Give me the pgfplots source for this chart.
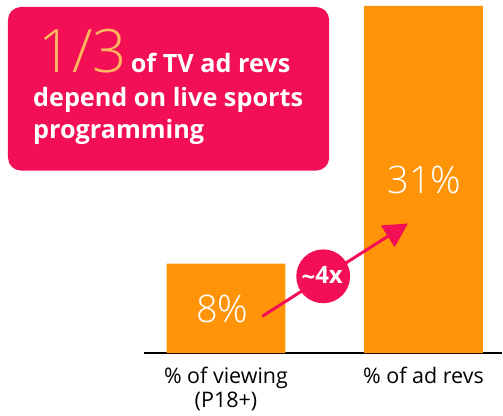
\documentclass[border=0pt]{standalone}
\usepackage{pgfplots}
\pgfplotsset{compat=1.18}
\usepackage{fontspec}
\setmainfont{Open Sans}
\newfontfamily\lightfont{Open Sans Light}
\usetikzlibrary{arrows.meta}
\definecolor{barorange}{HTML}{FF9408}
\definecolor{hotpink}{HTML}{F20F55}
\definecolor{peach}{HTML}{FFB860}
\begin{document}
\begin{tikzpicture}
\begin{scope}[x=1bp,y=-1bp]
\path[use as bounding box] (0,0) rectangle (503,417);
\end{scope}
\begin{axis}[
  at={(144bp,-354bp)}, anchor=south west,
  scale only axis, width=359bp, height=348bp,
  ybar, bar width=0.601, bar shift=0pt,
  xmin=-0.4167, xmax=1.3965, ymin=0, ymax=31,
  axis x line=bottom, axis y line=none,
  axis line style={line width=2.5bp, -},
  xtick=data, xticklabels={{\% of viewing\\(P18+)},{\% of ad revs}},
  xticklabel style={align=center, font=\fontsize{21.5bp}{25bp}\selectfont, text=black, yshift=-10bp},
  major tick length=0pt,
  clip=false,
]
\addplot[fill=barorange, draw=none] coordinates {(0,8) (1,31)};
\end{axis}
\begin{scope}[x=1bp,y=-1bp]
\fill[hotpink, rounded corners=13bp] (8,7) rectangle (330,171);
\node[anchor=base west, inner sep=0, text=peach, font=\lightfont\fontsize{60bp}{60bp}\selectfont] at (38,73) {1/3};
\node[anchor=base west, inner sep=0, text=white, font=\bfseries\fontsize{25.3bp}{28bp}\selectfont] at (131,73) {of TV ad revs};
\node[anchor=base west, inner sep=0, text=white, font=\bfseries\fontsize{25.3bp}{28bp}\selectfont] at (33,107) {depend on live sports};
\node[anchor=base west, inner sep=0, text=white, font=\bfseries\fontsize{25.3bp}{28bp}\selectfont] at (33,139) {programming};
\node[anchor=base, inner sep=0, text=white, font=\lightfont\fontsize{38bp}{38bp}\selectfont] at (223,323) {8\%};
\node[anchor=base, inner sep=0, text=white, font=\lightfont\fontsize{38bp}{38bp}\selectfont] at (425.5,194) {31\%};
\draw[hotpink, line width=3bp, -{Triangle[length=24bp,width=25bp]}] (263,317) -- (409,224);
\fill[hotpink] (324,277) circle (27);
\node[inner sep=0, text=white, font=\bfseries\fontsize{24bp}{24bp}\selectfont] at (323,277) {\raisebox{-2bp}{\textasciitilde}4x};
\end{scope}
\end{tikzpicture}
\end{document}
